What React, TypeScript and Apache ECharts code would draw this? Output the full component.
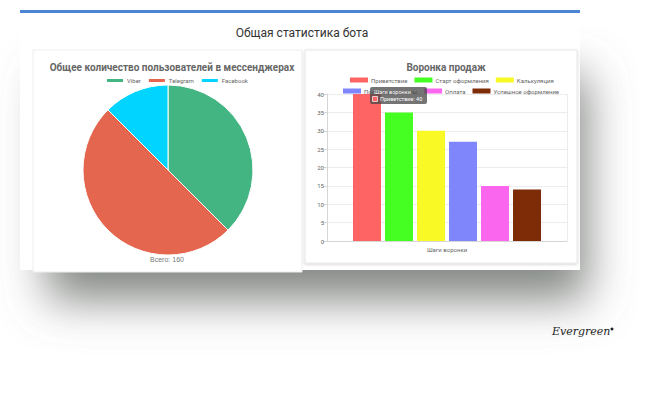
import React, { useEffect, useRef } from "react";
import * as echarts from "echarts";

const pieNames = ["Viber", "Telegram", "Facebook"];
const pieValues = [60, 80, 20];
const pieColors = ["#43b582", "#e5664f", "#00d4ff"];

const funnelCategory = ["Шаги воронки"];
const funnelNames = ["Приветствие", "Старт оформления", "Калькуляция", "Получение оплаты", "Оплата", "Успешное оформление"];
const funnelValues = [40, 35, 30, 27, 15, 14];
const funnelColors = ["#ff6464", "#46ff22", "#f9f925", "#7f86fb", "#fb66ee", "#7e2c07"];

const FONT = "Roboto, 'Liberation Sans', Arial, sans-serif";

export default function App() {
  const ref = useRef<HTMLDivElement>(null);
  useEffect(() => {
    if (!ref.current) return;
    const chart = echarts.init(ref.current, undefined, { renderer: "svg" });
    const total = pieValues.reduce((a, b) => a + b, 0);
    const option: any = {
      animation: false,
      backgroundColor: "#ffffff",
      textStyle: { fontFamily: FONT },
      title: [
        { text: "Общая статистика бота", left: 297, top: 22, textAlign: "center",
          textStyle: { fontSize: 12, fontWeight: "normal", color: "#333", fontFamily: FONT } },
        { text: "Общее количество пользователей в мессенджерах", left: 167, top: 57, textAlign: "center",
          textStyle: { fontSize: 10, fontWeight: "bold", color: "#666", fontFamily: FONT } },
        { text: "Воронка продаж", left: 441, top: 57, textAlign: "center",
          textStyle: { fontSize: 10, fontWeight: "bold", color: "#666", fontFamily: FONT } },
      ],
      legend: [
        { data: pieNames, left: 100, top: 72, itemWidth: 18, itemHeight: 5, itemGap: 6, icon: "rect",
          textStyle: { fontSize: 6, color: "#666", padding: [0, 0, 0, -2] }, selectedMode: false },
        { data: funnelNames.slice(0, 3), left: 345, top: 72, itemWidth: 18, itemHeight: 5, itemGap: 7, icon: "rect",
          textStyle: { fontSize: 6, color: "#666", padding: [0, 0, 0, -2] }, selectedMode: false },
        { data: funnelNames.slice(3), left: 338, top: 83, itemWidth: 18, itemHeight: 5, itemGap: 7, icon: "rect",
          textStyle: { fontSize: 6, color: "#666", padding: [0, 0, 0, -2] }, selectedMode: false },
      ],
      grid: { left: 327, right: 96, top: 94, bottom: 173, containLabel: false },
      xAxis: {
        type: "category", data: funnelCategory,
        axisLine: { lineStyle: { color: "#d6d6d6" } },
        axisTick: { show: false },
        splitLine: { show: true, interval: 0, lineStyle: { color: "#ececec" } },
        axisLabel: { fontSize: 6, color: "#666", margin: 5 },
      },
      yAxis: {
        type: "value", min: 0, max: 40, interval: 5,
        axisLine: { show: true, lineStyle: { color: "#d6d6d6" } },
        axisTick: { show: true, length: 4, lineStyle: { color: "#d6d6d6" } },
        splitLine: { lineStyle: { color: "#ececec" } },
        axisLabel: { fontSize: 6, color: "#666", margin: 3 },
      },
      series: [
        {
          type: "pie", name: "users", center: [168, 170], radius: 85, startAngle: 90, clockwise: true,
          label: { show: false }, labelLine: { show: false },
          itemStyle: { borderColor: "#fff", borderWidth: 1 },
          data: pieNames.map((n, i) => ({ name: n, value: pieValues[i], itemStyle: { color: pieColors[i] } })),
        },
        ...funnelNames.map((n, i) => ({
          type: "bar", name: n, data: [funnelValues[i]], barWidth: 28, barGap: "14.3%",
          itemStyle: { color: funnelColors[i] },
        })),
      ],
      graphic: [
        {
          type: "group", z: -10, silent: true,
          children: [
            { type: "rect", shape: { x: 35, y: 40, width: 540, height: 225 },
              style: { fill: "#d8d9d8", shadowBlur: 45, shadowOffsetX: 12, shadowOffsetY: 35, shadowColor: "rgba(110,114,110,0.85)" }, z: -10 },
            { type: "rect", shape: { x: 20, y: 10, width: 560, height: 260 }, style: { fill: "#ffffff" }, z: -9 },
            { type: "rect", shape: { x: 20, y: 10, width: 560, height: 3 }, style: { fill: "#4a86d4" }, z: -8 },
            { type: "rect", shape: { x: 33, y: 50, width: 269, height: 222 },
              style: { fill: "#fff", stroke: "#eeeeee", lineWidth: 1 }, z: -8 },
            { type: "rect", shape: { x: 305, y: 50, width: 272, height: 213 },
              style: { fill: "#fff", stroke: "#e8e8e8", lineWidth: 1, shadowBlur: 3, shadowOffsetY: 1, shadowColor: "rgba(0,0,0,0.18)" }, z: -8 },
          ],
        },
        { type: "text", left: 150, top: 256, z: 10,
          style: { text: "Всего: " + total, fontSize: 7, fill: "#777", font: "7px " + FONT } },
        {
          type: "group", z: 100,
          children: [
            { type: "rect", shape: { x: 370, y: 87, width: 57, height: 17, r: 2 }, style: { fill: "rgba(70,70,70,0.75)" }, z: 100 },
            { type: "text", x: 374, y: 88.5, z: 101,
              style: { text: funnelCategory[0], font: "5.5px " + FONT, fill: "#fff" } },
            { type: "rect", shape: { x: 372.5, y: 96.5, width: 5, height: 5 }, style: { fill: funnelColors[0], stroke: "#fff", lineWidth: 0.7 }, z: 101 },
            { type: "text", x: 380, y: 96.3, z: 101,
              style: { text: funnelNames[0] + ": " + funnelValues[0], font: "5.5px " + FONT, fill: "#fff" } },
          ],
        },
        { type: "text", x: 552, y: 326, z: 10,
          style: { text: "Evergreen", font: "italic 11px 'DejaVu Serif', serif", fill: "#222" } },
        { type: "circle", shape: { cx: 612, cy: 329, r: 1.5 }, style: { fill: "#222" }, z: 10 },
      ],
    };
    chart.setOption(option);
    return () => chart.dispose();
  }, []);
  return <div ref={ref} style={{ position: "absolute", left: 0, top: 0, width: 663, height: 414 }} />;
}
